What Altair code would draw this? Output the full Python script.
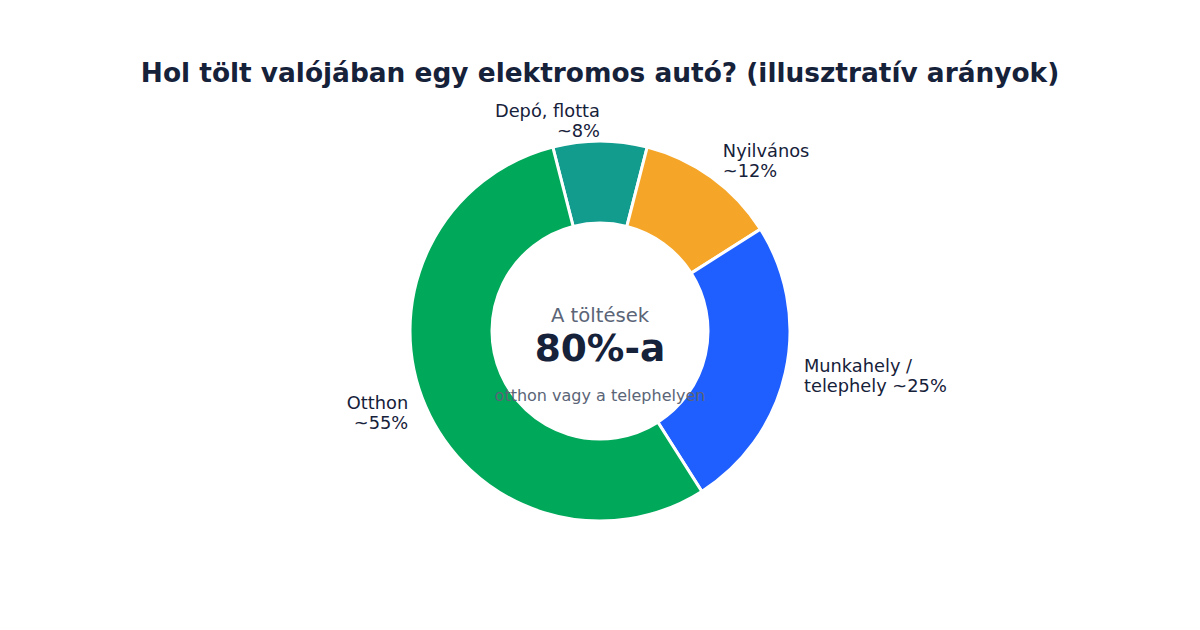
import math
import pandas as pd
import altair as alt

# slices, clockwise from the top
names = ["Depó, flotta", "Nyilvános", "Munkahely / telephely", "Otthon"]
shares = [8, 12, 25, 55]
labels = ["Depó, flotta\n~8%", "Nyilvános\n~12%", "Munkahely /\ntelephely ~25%", "Otthon\n~55%"]
colors = ["#129C8E", "#F5A628", "#1F5EFF", "#00A85A"]

title = "Hol tölt valójában egy elektromos autó? (illusztratív arányok)"
center_top = "A töltések"
center_big = "80%-a"
center_sub = "otthon vagy a telephelyen"

df = pd.DataFrame({"name": names, "share": shares, "label": labels})
df["end"] = df["share"].cumsum()
df["start"] = df["end"] - df["share"]
df["mid"] = (df["start"] + df["end"]) / 2
df["side"] = ["right", "left", "left", "right"]

W, H = 1184, 614
CX, CY = 592, 323
start_angle = -math.radians(shares[0] / 100 * 360 / 2)
theta_scale = alt.Scale(domain=[0, 100], range=[start_angle, start_angle + 2 * math.pi])

base = alt.Chart(df)

ring = base.mark_arc(outerRadius=190, innerRadius=108, stroke="white", strokeWidth=3).encode(
    theta=alt.Theta("start:Q", scale=theta_scale, stack=False),
    theta2="end:Q",
    color=alt.Color("name:N", scale=alt.Scale(domain=names, range=colors), legend=None),
    x=alt.value(CX),
    y=alt.value(CY),
)


def side_labels(side, align):
    return base.transform_filter(alt.datum.side == side).mark_text(
        radius=209, align=align, baseline="middle", lineBreak="\n", dy=-10,
        font="DejaVu Sans", fontSize=17.8, color="#16213A", lineHeight=20,
    ).encode(
        theta=alt.Theta("mid:Q", scale=theta_scale, stack=False),
        text="label:N",
        x=alt.value(CX),
        y=alt.value(CY),
    )


def fixed_text(txt, y, size, color, weight="normal"):
    return alt.Chart(alt.Data(values=[{}])).mark_text(
        text=txt, font="DejaVu Sans", fontSize=size, color=color,
        fontWeight=weight, align="center", baseline="middle",
    ).encode(x=alt.value(CX), y=alt.value(y))


chart = alt.layer(
    ring,
    side_labels("left", "left"),
    side_labels("right", "right"),
    fixed_text(title, 66, 26.4, "#16213A", "bold"),
    fixed_text(center_top, 308, 19.6, "#5B6577"),
    fixed_text(center_big, 342, 37.5, "#16213A", "bold"),
    fixed_text(center_sub, 388, 16, "#5B6577"),
).properties(
    width=W, height=H, padding=0, autosize=alt.AutoSizeParams(type="none")
).configure_view(stroke=None)

chart.save("out.html", embed_options={"renderer": "svg", "actions": False})
